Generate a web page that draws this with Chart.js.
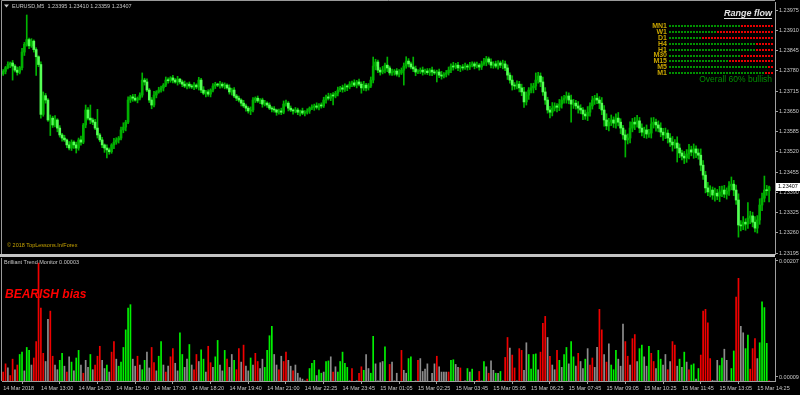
<!DOCTYPE html>
<html><head><meta charset="utf-8">
<script src="https://cdn.jsdelivr.net/npm/chart.js@4.4.1/dist/chart.umd.min.js"></script>
<style>
html,body{margin:0;padding:0;background:#000;overflow:hidden}
#wrap{position:relative;width:800px;height:395px;background:#000}
#c1{position:absolute;left:0;top:0}
#c2{position:absolute;left:0;top:258px}
</style></head><body>
<div id="wrap"><canvas id="c1" width="800" height="258"></canvas><canvas id="c2" width="800" height="137"></canvas></div>
<script>
// Prices in points above 1.23000 (e.g. 407 = 1.23407)
const closes = [
778,790,800,805,795,782,775,790,840,865,
880,860,875,848,825,800,640,700,686,622,
628,606,622,596,574,564,558,542,532,551,
542,532,558,551,606,654,628,622,615,596,
574,558,542,532,526,520,542,551,558,564,
590,599,615,686,696,692,686,692,702,750,
744,718,686,670,702,712,718,725,734,750,
748,757,750,744,753,744,737,731,737,731,
728,734,728,750,718,708,712,705,718,731,
737,734,737,731,734,725,712,718,699,692,
686,676,667,660,651,654,686,692,683,686,
673,676,670,660,657,654,647,651,647,673,
676,660,654,651,654,647,651,644,647,651,
660,663,667,663,670,667,686,696,692,702,
699,708,718,725,721,731,728,737,741,734,
744,737,725,734,725,731,750,795,808,782,
776,782,798,789,773,776,779,769,773,782,
795,811,802,792,786,776,779,782,776,779,
774,782,776,773,776,766,763,769,773,782,
795,792,798,789,792,789,795,792,798,802,
795,798,792,802,808,818,808,798,802,795,
805,798,802,789,766,750,734,731,737,725,
712,680,702,718,725,731,750,763,744,712,
686,654,647,660,667,663,673,686,692,699,
686,673,676,667,660,654,641,635,647,667,
686,692,686,676,654,622,603,615,622,612,
628,615,596,574,558,564,596,615,609,619,
596,583,590,577,580,609,615,606,596,583,
574,580,564,551,542,548,532,516,506,500,
513,526,519,529,516,509,477,445,404,391,
397,381,387,378,391,397,384,394,410,416,
397,365,285,282,294,288,307,314,294,275,
301,349,371,397,395,407];
const opens = [
770,778,790,800,805,795,782,775,790,840,
865,880,860,875,848,825,800,640,700,686,
622,628,606,622,596,574,564,558,542,532,
551,542,532,558,551,606,654,628,622,615,
596,574,558,542,532,526,520,542,551,558,
564,590,599,615,686,696,692,686,692,702,
750,744,718,686,670,702,712,718,725,734,
750,748,757,750,744,753,744,737,731,737,
731,728,734,728,750,718,708,712,705,718,
731,737,734,737,731,734,725,712,718,699,
692,686,676,667,660,651,654,686,692,683,
686,673,676,670,660,657,654,647,651,647,
673,676,660,654,651,654,647,651,644,647,
651,660,663,667,663,670,667,686,696,692,
702,699,708,718,725,721,731,728,737,741,
734,744,737,725,734,725,731,750,795,808,
782,776,782,798,789,773,776,779,769,773,
782,795,811,802,792,786,776,779,782,776,
779,774,782,776,773,776,766,763,769,773,
782,795,792,798,789,792,789,795,792,798,
802,795,798,792,802,808,818,808,798,802,
795,805,798,802,789,766,750,734,731,737,
725,712,680,702,718,725,731,750,763,744,
712,686,654,647,660,667,663,673,686,692,
699,686,673,676,667,660,654,641,635,647,
667,686,692,686,676,654,622,603,615,622,
612,628,615,596,574,558,564,596,615,609,
619,596,583,590,577,580,609,615,606,596,
583,574,580,564,551,542,548,532,516,506,
500,513,526,519,529,516,509,477,445,404,
391,397,381,387,378,391,397,384,394,410,
416,397,365,285,282,294,288,307,314,294,
275,301,349,371,397,395];
// wick lengths (points) above / below the candle body
const upperWick = [
6,4,9,3,8,5,10,4,12,6,
79,5,8,4,6,3,9,12,7,5,
10,6,14,4,8,5,9,3,11,7,
4,9,6,12,5,16,8,42,6,9,
60,5,8,3,10,6,4,12,7,5,
9,14,6,10,5,8,12,4,7,23,
6,10,5,8,12,4,9,6,5,10,
7,4,8,5,9,3,6,10,4,7,
5,8,4,9,6,11,5,7,4,8,
6,3,9,5,7,4,10,6,8,5,
7,4,9,6,5,10,8,4,7,5,
6,9,4,7,5,8,3,6,9,10,
10,5,7,4,8,6,3,9,5,7,
4,8,6,10,5,7,9,6,12,5,
8,6,10,5,9,7,4,8,6,10,
5,9,7,12,6,8,10,29,9,6,
8,12,7,26,6,9,5,8,11,7,
10,14,8,6,32,9,5,7,10,6,
8,5,10,7,6,9,12,5,8,10,
7,12,6,9,5,8,10,6,9,7,
6,10,5,9,12,8,6,10,7,9,
8,6,12,9,10,7,14,8,11,9,
12,15,10,8,14,9,23,12,10,16,
14,9,12,18,10,8,15,11,9,13,
10,16,12,9,14,11,8,13,18,10,
12,9,15,11,18,14,20,12,16,10,
14,18,11,9,16,13,20,12,15,18,
11,14,9,16,12,20,15,10,13,17,
12,16,10,14,18,11,20,13,9,15,
14,18,12,16,10,13,20,15,12,18,
14,10,16,12,18,13,15,10,14,23,
12,16,20,14,18,11,50,15,12,18,
14,20,16,45,15,3];
const lowerWick = [
5,8,4,10,45,6,9,5,7,11,
6,9,5,8,60,7,12,6,10,5,
50,8,6,12,7,10,5,9,6,8,
11,16,7,10,5,9,6,12,8,5,
10,6,9,14,26,8,5,12,7,10,
6,9,12,5,8,10,4,9,6,7,
10,5,8,12,6,9,4,7,10,5,
8,5,9,4,10,6,8,5,9,7,
5,9,6,10,8,5,12,7,9,6,
8,5,10,6,9,4,7,10,5,8,
6,9,5,10,7,12,6,8,5,9,
10,6,8,5,9,7,10,6,8,5,
7,9,5,10,6,8,12,5,9,6,
8,5,10,6,9,7,5,10,6,8,
29,6,9,5,10,7,12,6,8,5,
9,6,17,8,10,7,5,9,12,8,
10,6,9,12,7,8,10,6,9,5,
48,7,10,6,9,12,5,8,10,7,
6,9,12,5,29,8,10,6,9,7,
8,10,6,9,12,7,5,10,8,6,
9,6,10,8,5,12,7,9,10,6,
10,8,12,9,14,10,16,11,9,13,
12,18,10,14,9,16,12,10,15,11,
14,10,18,12,9,15,11,13,10,16,
12,58,14,10,16,12,18,11,15,13,
10,14,12,18,15,20,12,16,11,14,
16,12,18,14,55,13,16,12,18,10,
15,12,18,14,11,16,13,20,12,15,
18,12,16,14,20,11,45,15,12,18,
14,16,12,20,15,13,18,14,16,12,
16,14,20,12,18,15,11,16,14,12,
18,14,39,16,12,20,14,18,15,12,
16,14,18,12,15,36];
// Brilliant Trend Monitor histogram (units of 0.00001) and state (1 bull, -1 bear, 0 neutral)
const histValues = [
18,32,25,12,40,22,30,48,52,20,
60,55,30,42,70,204,127,50,36,108,
122,45,30,22,38,50,28,18,44,35,
20,42,55,30,16,38,26,48,22,30,
45,62,38,24,30,18,52,70,40,28,
35,60,90,127,133,40,28,45,30,22,
38,52,25,60,34,20,45,70,30,18,
28,44,58,33,20,85,48,26,40,65,
30,22,48,36,56,40,18,62,34,26,
44,72,30,20,55,40,26,48,38,22,
58,35,64,28,20,42,30,50,36,24,
40,26,55,80,96,48,30,22,45,36,
52,38,28,20,30,16,8,6,3,6,
24,33,38,12,22,16,18,36,37,44,
18,27,18,36,52,33,26,3,24,2,
3,16,27,21,48,24,16,79,32,3,
34,36,61,2,31,35,3,16,2,55,
21,16,41,44,2,3,38,41,19,23,
32,2,16,32,45,27,18,18,18,18,
38,39,31,26,25,2,3,24,18,23,
2,4,19,3,36,27,16,37,21,16,
16,19,3,43,77,59,47,25,3,58,
55,21,68,48,23,48,49,22,52,101,
113,77,45,30,22,55,38,26,48,60,
32,70,44,28,50,36,24,40,58,30,
42,26,60,125,90,48,35,66,30,22,
55,40,28,100,70,45,30,75,82,36,
58,64,44,28,62,50,36,24,55,40,
30,48,22,36,70,64,28,40,26,52,
35,22,30,32,6,24,47,122,125,102,
41,4,3,38,29,42,57,38,3,24,
54,146,178,96,85,58,81,23,58,75,
41,68,138,128,67,3];
const histStates = [
-1,-1,0,-1,-1,0,-1,1,1,0,
1,1,0,-1,-1,-1,-1,-1,0,0,
-1,-1,0,0,1,1,0,-1,0,1,
0,1,1,0,-1,0,0,1,0,-1,
-1,-1,0,0,1,0,-1,-1,0,1,
1,1,1,1,1,0,0,-1,0,1,
1,0,0,-1,-1,0,1,1,0,-1,
0,-1,-1,0,0,1,1,0,0,1,
0,-1,-1,0,1,1,0,-1,-1,0,
1,1,0,0,1,-1,0,0,1,-1,
-1,0,-1,0,0,1,0,-1,-1,0,
0,1,1,1,1,0,0,-1,0,-1,
-1,0,0,-1,0,0,0,0,0,-1,
1,1,1,0,1,1,0,1,1,0,
-1,0,1,1,1,1,1,0,-1,0,
0,-1,-1,1,0,0,1,1,0,0,
0,0,1,0,-1,0,0,0,0,-1,
0,0,1,1,0,0,-1,0,0,0,
0,0,0,0,-1,0,0,0,0,-1,
1,1,0,0,-1,0,0,1,0,1,
0,-1,-1,0,1,0,-1,0,0,1,
0,1,0,-1,-1,0,-1,-1,0,-1,
-1,0,0,1,1,1,1,0,-1,-1,
-1,0,-1,0,0,-1,1,0,1,1,
0,1,1,0,-1,0,0,1,0,-1,
-1,0,0,-1,-1,0,-1,0,1,1,
1,0,0,0,-1,-1,0,-1,-1,0,
1,1,0,0,1,-1,-1,0,1,1,
0,0,-1,0,-1,-1,0,1,0,1,
0,-1,1,1,0,1,-1,-1,-1,-1,
-1,0,0,0,1,1,0,0,0,1,
1,-1,-1,0,0,1,1,-1,-1,-1,
0,1,1,1,1,-1];
const timeLabels = ['14 Mar 2018','14 Mar 13:00','14 Mar 14:20','14 Mar 15:40','14 Mar 17:00','14 Mar 18:20','14 Mar 19:40','14 Mar 21:00','14 Mar 22:25','14 Mar 23:45','15 Mar 01:05','15 Mar 02:25','15 Mar 03:45','15 Mar 05:05','15 Mar 06:25','15 Mar 07:45','15 Mar 09:05','15 Mar 10:25','15 Mar 11:45','15 Mar 13:05','15 Mar 14:25'];
const priceTicks = [1.23975,1.23910,1.23845,1.23780,1.23715,1.23650,1.23585,1.23520,1.23455,1.23390,1.23325,1.23260,1.23195];
const indicatorTicks = [0.00207,0.00009];
const rangeFlowTF = ['MN1','W1','D1','H4','H1','M30','M15','M5','M1'];
const rangeFlowBullPct = [68,45,32,83,83,68,56,96,92];
const overallBullPct = 60;
const symbolName = 'EURUSD,M5';
const barsPerTimeLabel = 16;
const futureSlots = 2;

const P = v => 1.23 + v / 100000;
const N = closes.length;
const cats = [];
for (let i = 0; i < N + futureSlots; i++) cats.push(String(i));

const bodyData = [], wickData = [], bodyColors = [];
for (let i = 0; i < N; i++) {
  const o = opens[i], c = closes[i];
  bodyData.push([P(o), P(c)]);
  wickData.push([P(Math.min(o, c) - lowerWick[i]), P(Math.max(o, c) + upperWick[i])]);
  bodyColors.push(c >= o ? '#00b000' : '#55ff55');
}
const histData = histValues.map(v => v / 100000);
const histColors = histStates.map(s => s > 0 ? '#00f000' : (s < 0 ? '#f00000' : '#8c8c8c'));

const FONT = "'Liberation Sans', Arial, sans-serif";
Chart.defaults.font.family = FONT;

function txt(ctx, s, x, y, font, color, align) {
  ctx.font = font; ctx.fillStyle = color; ctx.textAlign = align || 'left'; ctx.textBaseline = 'middle';
  ctx.fillText(s, x, y);
}

const overlay1 = {
  id: 'ov1',
  afterDraw(chart) {
    const ctx = chart.ctx, ys = chart.scales.y, ca = chart.chartArea;
    ctx.save();
    ctx.strokeStyle = '#9a9a9a'; ctx.lineWidth = 1;
    ctx.beginPath();
    ctx.moveTo(1.5, 0.5); ctx.lineTo(ca.right, 0.5);
    ctx.moveTo(1.5, 0.5); ctx.lineTo(1.5, 254);
    ctx.stroke();
    ctx.fillStyle = '#c4c4c4';
    ctx.fillRect(0, 254, ca.right, 3);
    // header
    ctx.fillStyle = '#c8c8c8';
    ctx.beginPath(); ctx.moveTo(4, 4.5); ctx.lineTo(9, 4.5); ctx.lineTo(6.5, 7.5); ctx.closePath(); ctx.fill();
    const L = N - 1;
    const hdr = symbolName + '  ' + P(opens[L]).toFixed(5) + ' ' + P(Math.max(opens[L], closes[L]) + upperWick[L]).toFixed(5) + ' ' +
      P(Math.min(opens[L], closes[L]) - lowerWick[L]).toFixed(5) + ' ' + P(closes[L]).toFixed(5);
    txt(ctx, hdr, 12, 6, '5.5px ' + FONT, '#c8c8c8');
    txt(ctx, '\u00a9 2018 TopLessons.In/Forex', 7, 245, '5.5px ' + FONT, '#c8a400');
    // Range flow
    txt(ctx, 'Range flow', 772, 14, 'italic bold 9px ' + FONT, '#e4e4e4', 'right');
    ctx.font = 'italic bold 9px ' + FONT;
    const w = ctx.measureText('Range flow').width;
    ctx.fillStyle = '#e4e4e4'; ctx.fillRect(772 - w, 18, w, 1);
    const x0 = 669, x1 = 772;
    rangeFlowTF.forEach((tf, k) => {
      const y = 26 + k * 5.9;
      txt(ctx, tf, 667, y, 'bold 7px ' + FONT, '#c8a400', 'right');
      const split = x0 + (x1 - x0) * rangeFlowBullPct[k] / 100;
      for (let x = x0; x < x1; x += 3) {
        ctx.fillStyle = x < split ? '#009000' : '#e80000';
        ctx.fillRect(x, Math.round(y) - 1, 2, 2);
      }
    });
    txt(ctx, 'Overall ' + overallBullPct + '% bullish', 772, 80, '8.5px ' + FONT, '#008c00', 'right');
    // current price label
    const py = ys.getPixelForValue(P(closes[L]));
    ctx.fillStyle = '#ffffff'; ctx.fillRect(776, Math.round(py) - 4, 24, 8);
    txt(ctx, P(closes[L]).toFixed(5), 778, py, '5.5px ' + FONT, '#000000');
    ctx.restore();
  }
};

const overlay2 = {
  id: 'ov2',
  afterDraw(chart) {
    const ctx = chart.ctx, ca = chart.chartArea;
    ctx.save();
    ctx.strokeStyle = '#9a9a9a'; ctx.lineWidth = 1;
    ctx.beginPath(); ctx.moveTo(1.5, 0); ctx.lineTo(1.5, ca.bottom); ctx.stroke();
    txt(ctx, 'Brilliant Trend Monitor ' + histData[histData.length - 1].toFixed(5), 4, 4.5, '5.5px ' + FONT, '#c8c8c8');
    txt(ctx, 'BEARISH bias', 5, 37, 'italic bold 12px ' + FONT, '#ff0000');
    ctx.restore();
  }
};

const axisGray = '#a0a0a0';
const labelGray = '#c8c8c8';

new Chart(document.getElementById('c1'), {
  type: 'bar',
  data: {
    labels: cats,
    datasets: [
      { data: wickData, backgroundColor: '#00b400', barThickness: 1, grouped: false, order: 2 },
      { data: bodyData, backgroundColor: bodyColors, barThickness: 2, grouped: false, minBarLength: 1, order: 1 }
    ]
  },
  options: {
    responsive: false, animation: false, events: [], devicePixelRatio: 1,
    layout: { padding: { left: 2, top: 2, right: 0, bottom: 4 } },
    plugins: { legend: { display: false }, tooltip: { enabled: false } },
    scales: {
      x: { display: false, offset: true },
      y: {
        position: 'right', min: 1.231918, max: 1.240007,
        afterFit(s) { s.width = 25; s.paddingTop = 0; s.paddingBottom = 0; },
        afterBuildTicks(s) { s.ticks = priceTicks.map(v => ({ value: v })); },
        ticks: { color: labelGray, font: { size: 5.5 }, padding: 1, callback: v => Number(v).toFixed(5) },
        grid: { display: true, drawOnChartArea: false, drawTicks: true, tickLength: 3, color: axisGray },
        border: { display: true, color: axisGray }
      }
    }
  },
  plugins: [overlay1]
});

new Chart(document.getElementById('c2'), {
  type: 'bar',
  data: {
    labels: cats,
    datasets: [
      { data: histData, backgroundColor: histColors, barPercentage: 0.72, categoryPercentage: 1 }
    ]
  },
  options: {
    responsive: false, animation: false, events: [], devicePixelRatio: 1,
    layout: { padding: { left: 2, top: 0, right: 0, bottom: 0 } },
    plugins: { legend: { display: false }, tooltip: { enabled: false } },
    scales: {
      x: {
        offset: true,
        afterFit(s) { s.height = 14; s.paddingLeft = 0; s.paddingRight = 0; },
        ticks: {
          autoSkip: false, maxRotation: 0, minRotation: 0, align: 'start', padding: 1,
          color: labelGray, font: { size: 5.5 },
          callback: (v, i) => (i % barsPerTimeLabel === 0 && i / barsPerTimeLabel < timeLabels.length) ? timeLabels[i / barsPerTimeLabel] : null
        },
        grid: { display: true, drawOnChartArea: false, drawTicks: true, tickLength: 3, color: axisGray },
        border: { display: true, color: axisGray }
      },
      y: {
        position: 'right', min: 0.0000217, max: 0.002121,
        afterFit(s) { s.width = 25; s.paddingTop = 0; s.paddingBottom = 0; },
        afterBuildTicks(s) { s.ticks = indicatorTicks.map(v => ({ value: v })); },
        ticks: { color: labelGray, font: { size: 5.5 }, padding: 1, callback: v => Number(v).toFixed(5) },
        grid: { display: true, drawOnChartArea: false, drawTicks: true, tickLength: 3, color: axisGray },
        border: { display: true, color: axisGray }
      }
    }
  },
  plugins: [overlay2]
});
</script>
</body></html>
